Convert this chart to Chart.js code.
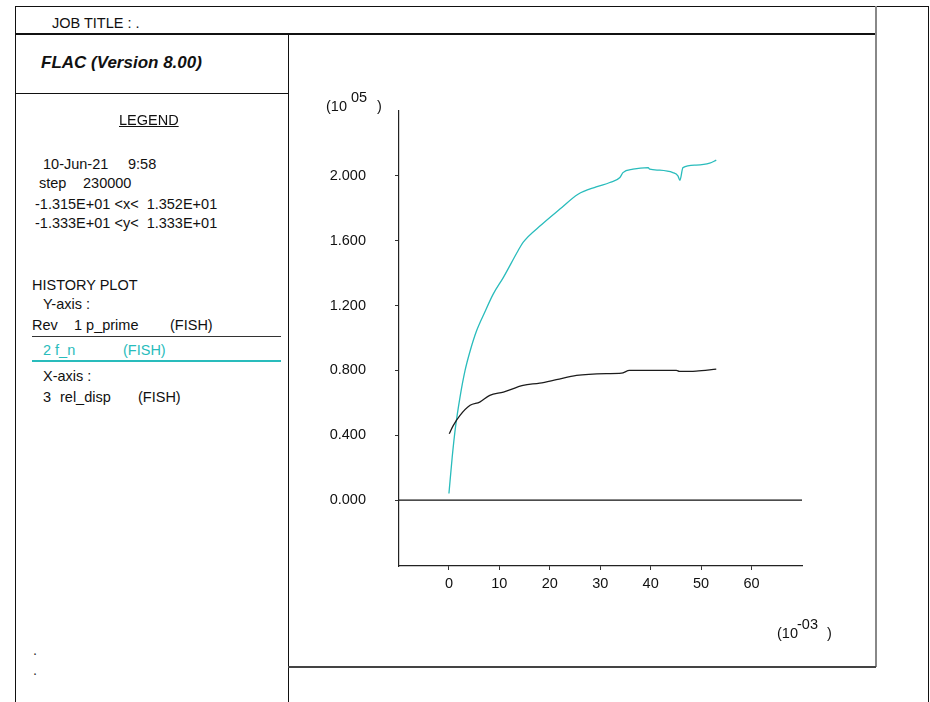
<!DOCTYPE html>
<html>
<head>
<meta charset="utf-8">
<script src="https://cdn.jsdelivr.net/npm/chart.js@4/dist/chart.umd.min.js"></script>
<style>
  html, body { margin:0; padding:0; background:#fff; }
  body { width:930px; height:702px; position:relative; overflow:hidden;
         font-family:"Liberation Sans", Arial, sans-serif; color:#111; }
  .ln { position:absolute; background:#111; }
  .t { position:absolute; white-space:pre; font-size:14.5px; line-height:16px; }
  #cv { position:absolute; left:289px; top:34px; }
</style>
</head>
<body>
<canvas id="cv" width="586" height="632"></canvas>
<script>
// ---- data ----
const pPrimeX = [0.06, 0.85, 2.2, 4.2, 6.1, 8.1, 10.8, 14.7, 18.0, 21.3, 25.3, 31.2, 34.2, 35.8, 45.1, 45.7, 49.0, 53.0];
const pPrimeY = [0.41, 0.46, 0.523, 0.585, 0.605, 0.646, 0.667, 0.708, 0.722, 0.743, 0.769, 0.78, 0.783, 0.80, 0.80, 0.794, 0.796, 0.808];
const fnX = [0, 0.65, 1.3, 2.2, 3.2, 4.2, 5.5, 7.1, 8.8, 10.8, 13.7, 14.7, 18.4, 22.0, 25.6, 29.2, 31.9, 33.9, 34.5, 36.5, 39.5, 39.8, 41.8, 44.4, 45.4, 45.8, 46.4, 49.0, 51.7, 53.0];
const fnY = [0.041, 0.266, 0.45, 0.636, 0.80, 0.92, 1.046, 1.159, 1.272, 1.374, 1.538, 1.59, 1.70, 1.795, 1.887, 1.932, 1.959, 1.99, 2.02, 2.041, 2.051, 2.041, 2.035, 2.02, 2.0, 1.973, 2.051, 2.066, 2.078, 2.097];
const yTicks = [0, 0.4, 0.8, 1.2, 1.6, 2.0];
const xTicks = [0, 10, 20, 30, 40, 50, 60];
const xRange = [-9.9, 70];
const yRange = [-0.406, 2.4];

// ---- frame and legend panel ----
const lines = [
  [15, 6, 914, 1, '#111'],
  [15, 6, 1, 696, '#111'],
  [928, 6, 1, 696, '#111'],
  [15, 33, 861, 1.5, '#111'],
  [875, 6, 2, 661, '#888'],
  [15, 93, 273, 1, '#111'],
  [288, 33, 1, 669, '#111'],
  [288, 666, 588, 2, '#444'],
  [32, 336, 249, 1.2, '#333'],
  [32, 360, 249, 1.5, '#29bcbc']
];
lines.forEach(([x, y, w, h, c]) => {
  const d = document.createElement('div');
  d.className = 'ln';
  Object.assign(d.style, {left:x+'px', top:y+'px', width:w+'px', height:h+'px', background:c});
  document.body.appendChild(d);
});
const texts = [
  ['JOB TITLE : .', 52, 23],
  ['10-Jun-21', 43, 164], ['9:58', 128, 164],
  ['step', 39, 183], ['230000', 83, 183],
  ['-1.315E+01 <x<  1.352E+01', 35, 204],
  ['-1.333E+01 <y<  1.333E+01', 35, 223],
  ['HISTORY PLOT', 32, 285],
  ['Y-axis :', 43, 304],
  ['Rev', 32, 325], ['1 p_prime', 74, 325], ['(FISH)', 170, 325],
  ['2 f_n', 43, 350, '#29bcbc'], ['(FISH)', 123, 350, '#29bcbc'],
  ['X-axis :', 43, 376],
  ['3', 43, 397], ['rel_disp', 60, 397], ['(FISH)', 138, 397],
  ['.', 33, 650, '#333'], ['.', 33, 670, '#333']
];
texts.forEach(([s, x, cy, c]) => {
  const d = document.createElement('div');
  d.className = 't';
  d.textContent = s;
  d.style.left = x + 'px';
  d.style.top = (cy - 8) + 'px';
  if (c) d.style.color = c;
  document.body.appendChild(d);
});
function addHtml(html, x, cy, extra) {
  const d = document.createElement('div');
  d.className = 't';
  d.innerHTML = html;
  d.style.left = x + 'px';
  d.style.top = (cy - 8) + 'px';
  if (extra) Object.assign(d.style, extra);
  document.body.appendChild(d);
  return d;
}
addHtml('FLAC (Version 8.00)', 41, 62, {fontSize:'17px', fontWeight:'bold', fontStyle:'italic', lineHeight:'18px', top:'54px'});
addHtml('LEGEND', 119, 120, {textDecoration:'underline'});
addHtml('(10', 326, 106);
addHtml('05', 351, 97);
addHtml(')', 377, 106);
addHtml('(10', 777, 633);
addHtml('-03', 797, 624);
addHtml(')', 827, 633);

// ---- chart ----
const tickFont = {family:'"Liberation Sans", Arial, sans-serif', size:14.5};
new Chart(document.getElementById('cv'), {
  type: 'line',
  data: {
    datasets: [
      { label:'p_prime', data: pPrimeX.map((x, i) => ({x, y: pPrimeY[i]})),
        borderColor:'#1c1c1c', borderWidth:1.3, pointRadius:0, fill:false,
        cubicInterpolationMode:'monotone' },
      { label:'f_n', data: fnX.map((x, i) => ({x, y: fnY[i]})),
        borderColor:'#29bcbc', borderWidth:1.3, pointRadius:0, fill:false,
        cubicInterpolationMode:'monotone' },
      { label:'zero', data: [{x:xRange[0], y:0}, {x:xRange[1], y:0}],
        borderColor:'#111', borderWidth:1.4, pointRadius:0, fill:false }
    ]
  },
  options: {
    responsive:false, animation:false, devicePixelRatio:1,
    layout: { padding: { left:40, top:77, right:73, bottom:60 } },
    plugins: { legend:{display:false}, tooltip:{enabled:false} },
    scales: {
      x: {
        type:'linear', min:xRange[0], max:xRange[1],
        afterBuildTicks: s => { s.ticks = xTicks.map(v => ({value:v})); },
        afterFit: s => { s.height = 40; },
        grid: { drawOnChartArea:false, drawTicks:true, tickLength:4, color:'#333', lineWidth:1 },
        border: { display:true, color:'#222', width:1.2 },
        ticks: { color:'#111', font:tickFont, padding:5, maxRotation:0, autoSkip:false,
                 callback: v => String(v) }
      },
      y: {
        type:'linear', min:yRange[0], max:yRange[1],
        afterBuildTicks: s => { s.ticks = yTicks.map(v => ({value:v})); },
        afterFit: s => { s.width = 70; },
        grid: { drawOnChartArea:false, drawTicks:true, tickLength:4, color:'#333', lineWidth:1 },
        border: { display:true, color:'#222', width:1.2 },
        ticks: { color:'#111', font:tickFont, padding:29, autoSkip:false,
                 callback: v => Number(v).toFixed(3) }
      }
    }
  }
});
</script>
</body>
</html>
